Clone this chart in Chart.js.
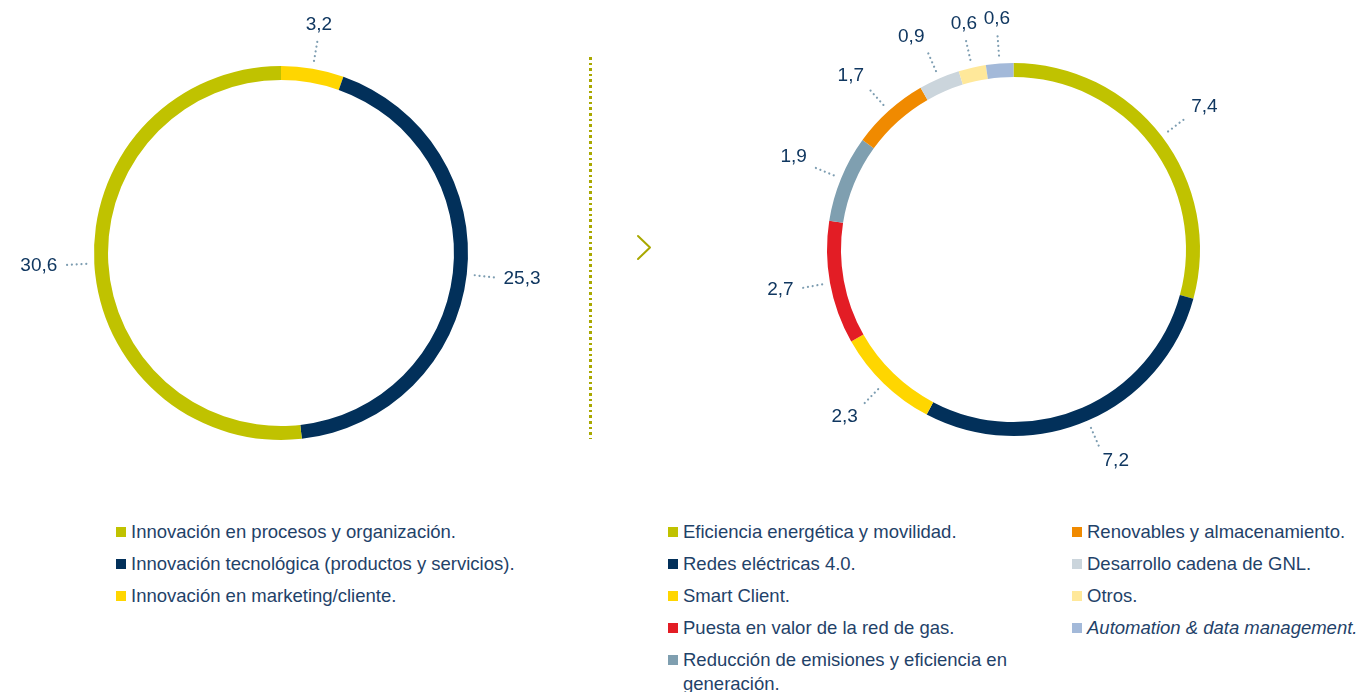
<!DOCTYPE html>
<html>
<head>
<meta charset="utf-8">
<script src="https://cdn.jsdelivr.net/npm/chart.js@4/dist/chart.umd.min.js"></script>
<style>
  html, body { margin:0; padding:0; background:#fff; }
  body { width:1366px; height:692px; position:relative; overflow:hidden; font-family:"Liberation Sans", Arial, sans-serif; }
  canvas { position:absolute; }
  #sep { position:absolute; left:589px; top:57px; width:3px; height:382px;
         background: repeating-linear-gradient(to bottom, #a9a800 0 2.6px, transparent 2.6px 5.6px); }
  .legend { position:absolute; font-size:18.5px; color:#1f4269; }
  .item { position:relative; padding-left:15px; line-height:24px; margin-bottom:8px; white-space:normal; }
  .sw { position:absolute; left:0; top:7px; width:10px; height:10px; }
</style>
</head>
<body>
<canvas id="c1" width="580" height="500" style="left:0;top:0"></canvas>
<canvas id="c2" width="766" height="500" style="left:600px;top:0"></canvas>
<div id="sep"></div>
<svg style="position:absolute;left:630px;top:228px" width="30" height="40">
  <polyline points="8,8 20,19.5 8,31" fill="none" stroke="#a9a800" stroke-width="2" stroke-linecap="round" stroke-linejoin="round"/>
</svg>
<div class="legend" id="leg1" style="left:116px;top:520px;width:440px"></div>
<div class="legend" id="leg2" style="left:668px;top:520px;width:360px"></div>
<div class="legend" id="leg3" style="left:1072px;top:520px;width:294px"></div>
<script>
// ---- data ----
const leftLabels = ["Innovación en marketing/cliente.", "Innovación tecnológica (productos y servicios).", "Innovación en procesos y organización."];
const leftValues = [3.2, 25.3, 30.6];
const leftColors = ["#FFD600", "#02305A", "#C0C200"];
const leftLegendOrder = [2, 1, 0];

const rightLabels = ["Eficiencia energética y movilidad.", "Redes eléctricas 4.0.", "Smart Client.", "Puesta en valor de la red de gas.", "Reducción de emisiones y eficiencia en generación.", "Renovables y almacenamiento.", "Desarrollo cadena de GNL.", "Otros.", "Automation & data management."];
const rightValues = [7.4, 7.2, 2.3, 2.7, 1.9, 1.7, 0.9, 0.6, 0.6];
const rightColors = ["#C0C200", "#02305A", "#FFD600", "#E31D25", "#7F9FB0", "#F08A00", "#CBD5DC", "#FFE89A", "#A3B9D9"];

const fmt = v => v.toFixed(1).replace('.', ',');

const outLabels = {
  id: 'outLabels',
  afterDatasetsDraw(chart) {
    const ctx = chart.ctx;
    const meta = chart.getDatasetMeta(0);
    const vals = chart.data.datasets[0].data;
    ctx.save();
    meta.data.forEach((arc, i) => {
      const p = arc.getProps(['x','y','startAngle','endAngle','outerRadius'], true);
      const mid = (p.startAngle + p.endAngle) / 2;
      const dx = Math.cos(mid), dy = Math.sin(mid);
      const r0 = p.outerRadius + 8, r1 = p.outerRadius + 31;
      ctx.beginPath();
      ctx.setLineDash([0.01, 4.8]);
      ctx.lineCap = 'round';
      ctx.lineWidth = 2.2;
      ctx.strokeStyle = '#7D9DB1';
      ctx.moveTo(p.x + dx * r0, p.y + dy * r0);
      ctx.lineTo(p.x + dx * r1, p.y + dy * r1);
      ctx.stroke();
      ctx.setLineDash([]);
      const rl = p.outerRadius + 37;
      let tx = p.x + dx * rl, ty = p.y + dy * rl;
      ctx.font = '19px "Liberation Sans", Arial, sans-serif';
      ctx.fillStyle = '#103760';
      ctx.textAlign = dx > 0.35 ? 'left' : (dx < -0.35 ? 'right' : 'center');
      ctx.textBaseline = dy < -0.35 ? 'bottom' : (dy > 0.35 ? 'top' : 'middle');
      if (ctx.textBaseline === 'bottom') ty += 2;
      if (ctx.textBaseline === 'top') ty -= 3;
      ctx.fillText(fmt(vals[i]), tx, ty);
    });
    ctx.restore();
  }
};

function makeChart(id, labels, values, colors, padding) {
  return new Chart(document.getElementById(id), {
    type: 'doughnut',
    data: { labels, datasets: [{ data: values, backgroundColor: colors, borderWidth: 0, hoverOffset: 0 }] },
    options: {
      responsive: false,
      animation: false,
      events: [],
      cutout: '92.5%',
      layout: { padding },
      plugins: { legend: { display: false }, tooltip: { enabled: false } }
    },
    plugins: [outLabels]
  });
}

makeChart('c1', leftLabels, leftValues, leftColors, { left: 94, right: 112, top: 66, bottom: 60 });
makeChart('c2', rightLabels, rightValues, rightColors, { left: 227, right: 166, top: 63, bottom: 64 });

function addItem(el, label, color, italic) {
  const d = document.createElement('div');
  d.className = 'item';
  d.innerHTML = '<span class="sw" style="background:' + color + '"></span>';
  const t = document.createElement('span');
  t.textContent = label;
  if (italic) t.style.fontStyle = 'italic';
  d.appendChild(t);
  el.appendChild(d);
}
const leg1 = document.getElementById('leg1');
leftLegendOrder.forEach(i => addItem(leg1, leftLabels[i], leftColors[i], false));
const leg2 = document.getElementById('leg2');
const leg3 = document.getElementById('leg3');
rightLabels.forEach((l, i) => addItem(i < 5 ? leg2 : leg3, l, rightColors[i], i === 8));
</script>
</body>
</html>
